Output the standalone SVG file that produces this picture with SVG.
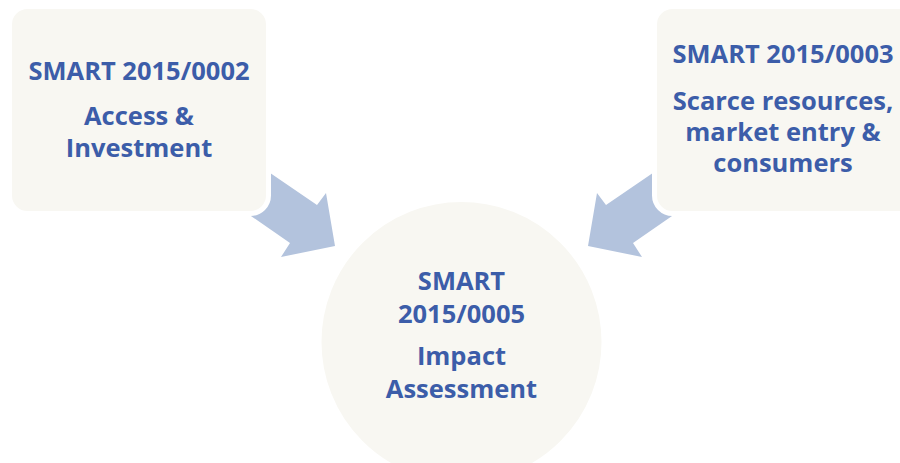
<svg xmlns="http://www.w3.org/2000/svg" xmlns:xlink="http://www.w3.org/1999/xlink" width="900" height="463" viewBox="0 0 900 463">
<style>
.node{fill:#F8F7F2;stroke:#FFFFFF;stroke-width:5}
.t{font-family:"Open Sans","Liberation Sans",sans-serif;font-weight:bold;font-size:25.5px;fill:#3C5DA9;text-anchor:middle}
.arrow{fill:#B3C3DD}
</style>
<defs>
<polygon id="arr" points="257,164 317,205 326,193 335,246 281,257 290,243 238,207"/>
</defs>
<rect width="900" height="463" fill="#FFFFFF"/>
<g id="connectors">
<use xlink:href="#arr" class="arrow"/>
<use xlink:href="#arr" class="arrow" transform="matrix(-1 0 0 1 923 0)"/>
</g>
<g id="node-0002">
<rect class="node" x="9.5" y="6.5" width="259" height="207" rx="18"/>
<text class="t" x="139" y="80">SMART 2015/0002</text>
<text class="t" x="139" y="125">Access &amp;</text>
<text class="t" x="139" y="157">Investment</text>
</g>
<g id="node-0003">
<rect class="node" x="654.5" y="6.5" width="265" height="207" rx="18"/>
<text class="t" x="783" y="63">SMART 2015/0003</text>
<text class="t" x="783" y="110">Scarce resources,</text>
<text class="t" x="783" y="141">market entry &amp;</text>
<text class="t" x="783" y="172">consumers</text>
</g>
<g id="node-0005">
<circle class="node" cx="461.5" cy="342" r="142.5"/>
<text class="t" x="461.5" y="290">SMART</text>
<text class="t" x="461.5" y="323">2015/0005</text>
<text class="t" x="461.5" y="365">Impact</text>
<text class="t" x="461.5" y="398">Assessment</text>
</g>
</svg>
